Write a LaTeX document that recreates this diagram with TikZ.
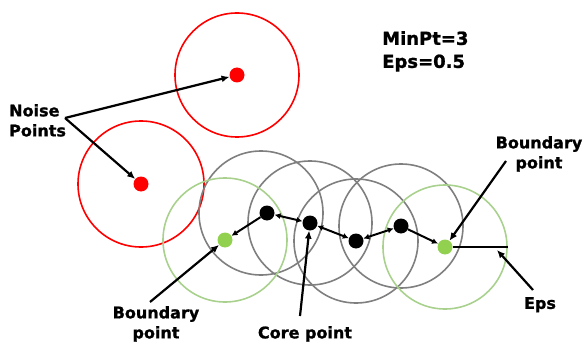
\documentclass[tikz,border=0pt]{standalone}
\usepackage{fontspec}
\setmainfont{DejaVu Sans}[BoldFeatures={FakeBold=1.2}]
\usetikzlibrary{arrows.meta,backgrounds}
\definecolor{noisered}{RGB}{255,0,0}
\definecolor{ringgreen}{RGB}{169,209,142}
\definecolor{dotgreen}{RGB}{146,208,80}
\definecolor{ringgray}{RGB}{127,127,127}
\begin{document}
\begin{tikzpicture}[x=1pt,y=-1pt,
  dot/.style={circle,inner sep=0pt,minimum size=15pt},
  ring/.style={line width=1.6pt},
  link/.style={line width=2pt,{Latex[length=6pt,width=6pt]}-{Latex[length=6pt,width=6pt]}},
  pointer/.style={line width=2.2pt,-{Latex[length=8pt,width=7pt]}},
  lbl/.style={font=\bfseries\fontsize{16}{20}\selectfont,align=center,inner sep=0pt}]
\useasboundingbox (0,0) rectangle (587,345);
% noise points
\node[dot,fill=noisered] (n1) at (237,75) {};
\node[dot,fill=noisered] (n2) at (141,184) {};
% core points
\node[dot,fill=black] (c1) at (267,213) {};
\node[dot,fill=black] (c2) at (310,223) {};
\node[dot,fill=black] (c3) at (356,241) {};
\node[dot,fill=black] (c4) at (401,226) {};
% boundary points
\node[dot,fill=dotgreen] (b1) at (225,240) {};
\node[dot,fill=dotgreen] (b2) at (445,247) {};
% eps neighbourhoods
\begin{scope}[on background layer]
\draw[ring,noisered] (n1) circle[radius=62pt];
\draw[ring,noisered] (n2) circle[radius=63pt];
\draw[ring,ringgray] (c1) ++(-6,0) circle[radius=62pt];
\foreach \p in {c2,c3,c4}
  \draw[ring,ringgray] (\p) circle[radius=62pt];
\draw[ring,ringgreen] (b1) circle[radius=62pt];
\draw[ring,ringgreen] (b2) circle[radius=62pt];
\end{scope}
% chain between the points
\draw[line width=2pt,-{Latex[length=6pt,width=6pt]}] (c1) -- (b1);
\draw[link] (c1) -- (c2);
\draw[link] (c2) -- (c3);
\draw[link] (c3) -- (c4);
\draw[line width=2pt,-{Latex[length=6pt,width=6pt]}] (c4) -- (b2);
\coordinate (epsend) at (508,247);
\draw[line width=2pt] (b2) -- (epsend);
% labels
\node[lbl,font=\bfseries\fontsize{18}{23}\selectfont,align=left,anchor=north west] (params) at (382,31) {MinPt=3\\Eps=0.5};
\node[lbl,align=left,anchor=north west] (noise) at (9,104) {Noise\\Points};
\node[lbl,anchor=north] (lbound) at (156,306) {Boundary\\point};
\node[lbl,anchor=north] (core) at (305,326) {Core point};
\node[lbl,anchor=north] (rbound) at (539,136) {Boundary\\point};
\node[lbl,anchor=north] (eps) at (540,297) {Eps};
% pointers
\coordinate (noisetail) at (65,118);
\coordinate (lbtail) at (150,302);
\coordinate (coretail) at (300,316);
\coordinate (rbtail) at (506,161);
\coordinate (epstail) at (533,290);
\coordinate (epstip) at (497,250);
\draw[pointer] (noisetail) -- (n1);
\draw[pointer] (noisetail) -- (n2);
\draw[pointer] (lbtail) -- (b1);
\draw[pointer] (coretail) -- (c2);
\draw[pointer] (rbtail) -- (b2);
\draw[pointer] (epstail) -- (epstip);
\end{tikzpicture}
\end{document}
